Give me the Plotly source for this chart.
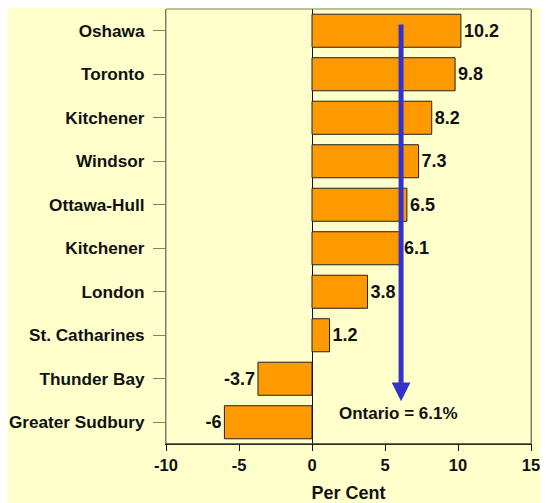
import plotly.graph_objects as go

cities = ["Oshawa", "Toronto", "Kitchener", "Windsor", "Ottawa-Hull", "Kitchener",
          "London", "St. Catharines", "Thunder Bay", "Greater Sudbury"]
values = [10.2, 9.8, 8.2, 7.3, 6.5, 6.1, 3.8, 1.2, -3.7, -6]
value_labels = ["10.2", "9.8", "8.2", "7.3", "6.5", "6.1", "3.8", "1.2", "-3.7", "-6"]
ontario = 6.1
x_ticks = [-10, -5, 0, 5, 10, 15]

positions = list(range(len(cities)))
FONT = "Liberation Sans, Arial, sans-serif"
FRAME = "#7F7F66"

fig = go.Figure(go.Bar(
    x=values, y=positions, orientation="h",
    marker=dict(color="#FF9900", line=dict(color="#222222", width=1)),
    width=0.76,
    text=["<b>%s</b>" % v for v in value_labels], textposition="outside",
    textfont=dict(family=FONT, size=18, color="#111111"),
    cliponaxis=False,
))

fig.add_annotation(
    x=ontario, y=8.52, ax=ontario, ay=-0.18,
    xref="x", yref="y", axref="x", ayref="y",
    showarrow=True, arrowhead=2, arrowsize=0.75, arrowwidth=5,
    arrowcolor="#3333CC", text="",
)
fig.add_annotation(
    x=5.93, y=8.81, xref="x", yref="y", showarrow=False,
    text="<b>Ontario = " + str(ontario) + "%</b>",
    font=dict(family=FONT, size=17, color="#111111"),
)

# page body has an 8px margin, so the figure is sized to fit the 548x503 window
fig.update_layout(
    width=540, height=495,
    margin=dict(l=158, r=17, t=1, b=59, autoexpand=False),
    paper_bgcolor="#FFFFCC", plot_bgcolor="#FFFFCC",
    showlegend=False,
    font=dict(family=FONT, size=16, color="#111111"),
)
fig.update_xaxes(
    range=[-10, 15], tickvals=x_ticks, ticktext=["<b>%d</b>" % t for t in x_ticks],
    ticks="outside", ticklen=6, tickcolor="#111111", tickwidth=1,
    showline=True, linecolor="#111111", linewidth=1, mirror=False,
    showgrid=False, zeroline=True, zerolinecolor="#111111", zerolinewidth=1,
    title=dict(text="<b>Per Cent</b>", font=dict(size=18), standoff=20),
    tickfont=dict(size=16.5), automargin=False,
)
fig.update_yaxes(
    range=[9.5, -0.5], tickvals=positions, ticktext=["<b>%s</b>" % c for c in cities],
    ticks="outside", ticklen=12, tickcolor=FRAME, tickwidth=1,
    showline=True, linecolor=FRAME, linewidth=1, mirror=True,
    showgrid=False, zeroline=False, tickfont=dict(size=17.2),
    ticklabelstandoff=5, automargin=False,
)
fig.add_shape(type="rect", xref="paper", yref="paper", x0=0, x1=1, y0=0, y1=1,
              line=dict(color=FRAME, width=1), layer="above")
fig.add_shape(type="line", xref="paper", yref="paper", x0=0, x1=1, y0=0, y1=0,
              line=dict(color="#111111", width=1), layer="above")

fig.write_html("out.html")
